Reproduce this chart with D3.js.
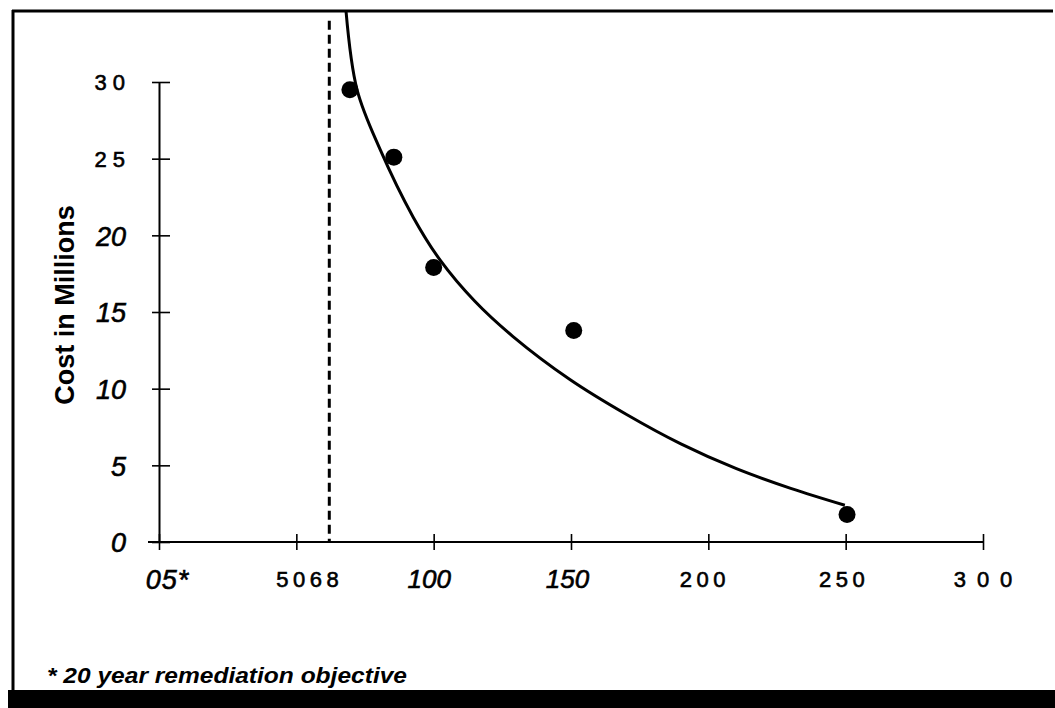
<!DOCTYPE html>
<html>
<head>
<meta charset="utf-8">
<script src="https://cdn.jsdelivr.net/npm/d3@7"></script>
<style>
  html, body { margin: 0; padding: 0; background: #fff; }
  svg { display: block; font-family: "Liberation Sans", Arial, sans-serif; }
</style>
</head>
<body>
<svg id="chart" width="1055" height="708"></svg>
<script>
// tick values and the labels as printed on the page
const xTicks = [0, 50, 100, 150, 200, 250, 300];
const xTickLabels = ["05*", "5068", "100", "150", "200", "250", "300"];
const yTicks = [0, 5, 10, 15, 20, 25, 30];
const yTickLabels = ["0", "5", "10", "15", "20", "25", "30"];

// observed points
const pointX = [69.5, 85.5, 100, 151, 250.5];
const pointY = [29.5, 25.1, 17.9, 13.8, 1.8];

// fitted curve
const curveX = [68.1, 72.1, 80.5, 92.5, 102.3, 115, 128.9, 149.6, 170.4, 190, 210, 230, 249.7];
const curveY = [34.6, 29.5, 25.6, 21.2, 18.4, 15.7, 13.4, 10.6, 8.3, 6.4, 4.8, 3.5, 2.4];

// 20 year remediation objective
const objectiveX = 62;
const objectiveTop = 34;

const yTitle = "Cost in Millions";
const footnote = "* 20 year remediation objective";

const svg = d3.select("#chart");

const x = d3.scaleLinear().domain([0, 300]).range([159, 983]);
const y = d3.scaleLinear().domain([0, 30]).range([542, 82]);

// frame: top rule, left rule, black band at the bottom
svg.append("line")
    .attr("x1", 12).attr("x2", 1053).attr("y1", 11).attr("y2", 11)
    .attr("stroke", "#000").attr("stroke-width", 3);
svg.append("line")
    .attr("x1", 13).attr("x2", 13).attr("y1", 10).attr("y2", 692)
    .attr("stroke", "#000").attr("stroke-width", 3);
svg.append("rect")
    .attr("x", 8).attr("y", 690).attr("width", 1047).attr("height", 18)
    .attr("fill", "#000");

// y axis
const yAxis = svg.append("g")
    .attr("transform", "translate(" + x(0) + ",0)")
    .call(d3.axisLeft(y).tickValues(yTicks).tickFormat((d, i) => yTickLabels[i]).tickSizeOuter(0));
yAxis.select(".domain").attr("stroke", "#000").attr("stroke-width", 2);
yAxis.selectAll(".tick line").attr("x1", -7).attr("x2", 11).attr("stroke", "#000").attr("stroke-width", 1.6);
yAxis.selectAll(".tick text")
    .attr("fill", "#000")
    .attr("stroke", "#000")
    .attr("stroke-width", 0.6)
    .attr("x", -33)
    .attr("dy", "0.36em")
    .each(function(d) {
        const t = d3.select(this);
        if (d >= 25) {
            t.style("font-size", "22px").style("letter-spacing", "6px").attr("x", -28);
        } else {
            t.style("font-size", "27px").style("font-style", "italic");
        }
    });

// x axis
const xAxis = svg.append("g")
    .attr("transform", "translate(0," + y(0) + ")")
    .call(d3.axisBottom(x).tickValues(xTicks).tickFormat((d, i) => xTickLabels[i]).tickSizeOuter(0));
xAxis.select(".domain").attr("d", "M148,0H" + x(300)).attr("stroke", "#000").attr("stroke-width", 2);
xAxis.selectAll(".tick line").attr("y1", -8).attr("y2", 8).attr("stroke", "#000").attr("stroke-width", 1.6);
const xLabelStyle = [
    { italic: true, size: 27, ls: 1, dx: 8 },
    { italic: false, size: 22, ls: 4.5, dx: 13 },
    { italic: true, size: 26, ls: 0, dx: -5 },
    { italic: true, size: 26, ls: 0, dx: -4 },
    { italic: false, size: 22, ls: 4.5, dx: -4 },
    { italic: false, size: 22, ls: 4.5, dx: -2 },
    { italic: false, size: 22, ls: 11, dx: 5 }
];
xAxis.selectAll(".tick text")
    .attr("fill", "#000")
    .attr("stroke", "#000")
    .attr("stroke-width", 0.6)
    .attr("y", 37)
    .attr("dy", "0.36em")
    .each(function(d, i) {
        const s = xLabelStyle[i];
        d3.select(this)
            .attr("dx", s.dx)
            .style("font-size", s.size + "px")
            .style("font-style", s.italic ? "italic" : "normal")
            .style("letter-spacing", s.ls + "px");
    });

// objective line
svg.append("line")
    .attr("x1", x(objectiveX)).attr("x2", x(objectiveX))
    .attr("y1", y(objectiveTop)).attr("y2", y(0))
    .attr("stroke", "#000").attr("stroke-width", 3)
    .attr("stroke-dasharray", "9,5");

// fitted curve
const curveData = curveX.map((d, i) => ({ x: d, y: curveY[i] }));
svg.append("path")
    .datum(curveData)
    .attr("d", d3.line().x(d => x(d.x)).y(d => y(d.y)).curve(d3.curveCatmullRom))
    .attr("fill", "none")
    .attr("stroke", "#000")
    .attr("stroke-width", 3);

// points
svg.selectAll(".dot")
    .data(pointX.map((d, i) => ({ x: d, y: pointY[i] })))
    .enter().append("circle")
    .attr("class", "dot")
    .attr("cx", d => x(d.x))
    .attr("cy", d => y(d.y))
    .attr("r", 8.5)
    .attr("fill", "#000");

// axis title
svg.append("text")
    .attr("transform", "translate(74,305) rotate(-90)")
    .attr("text-anchor", "middle")
    .style("font-size", "27px")
    .style("font-weight", "bold")
    .text(yTitle);

// footnote
svg.append("text")
    .attr("x", 47)
    .attr("y", 683)
    .attr("textLength", 360)
    .attr("lengthAdjust", "spacingAndGlyphs")
    .style("font-size", "22px")
    .style("font-weight", "bold")
    .style("font-style", "italic")
    .text(footnote);
</script>
</body>
</html>
